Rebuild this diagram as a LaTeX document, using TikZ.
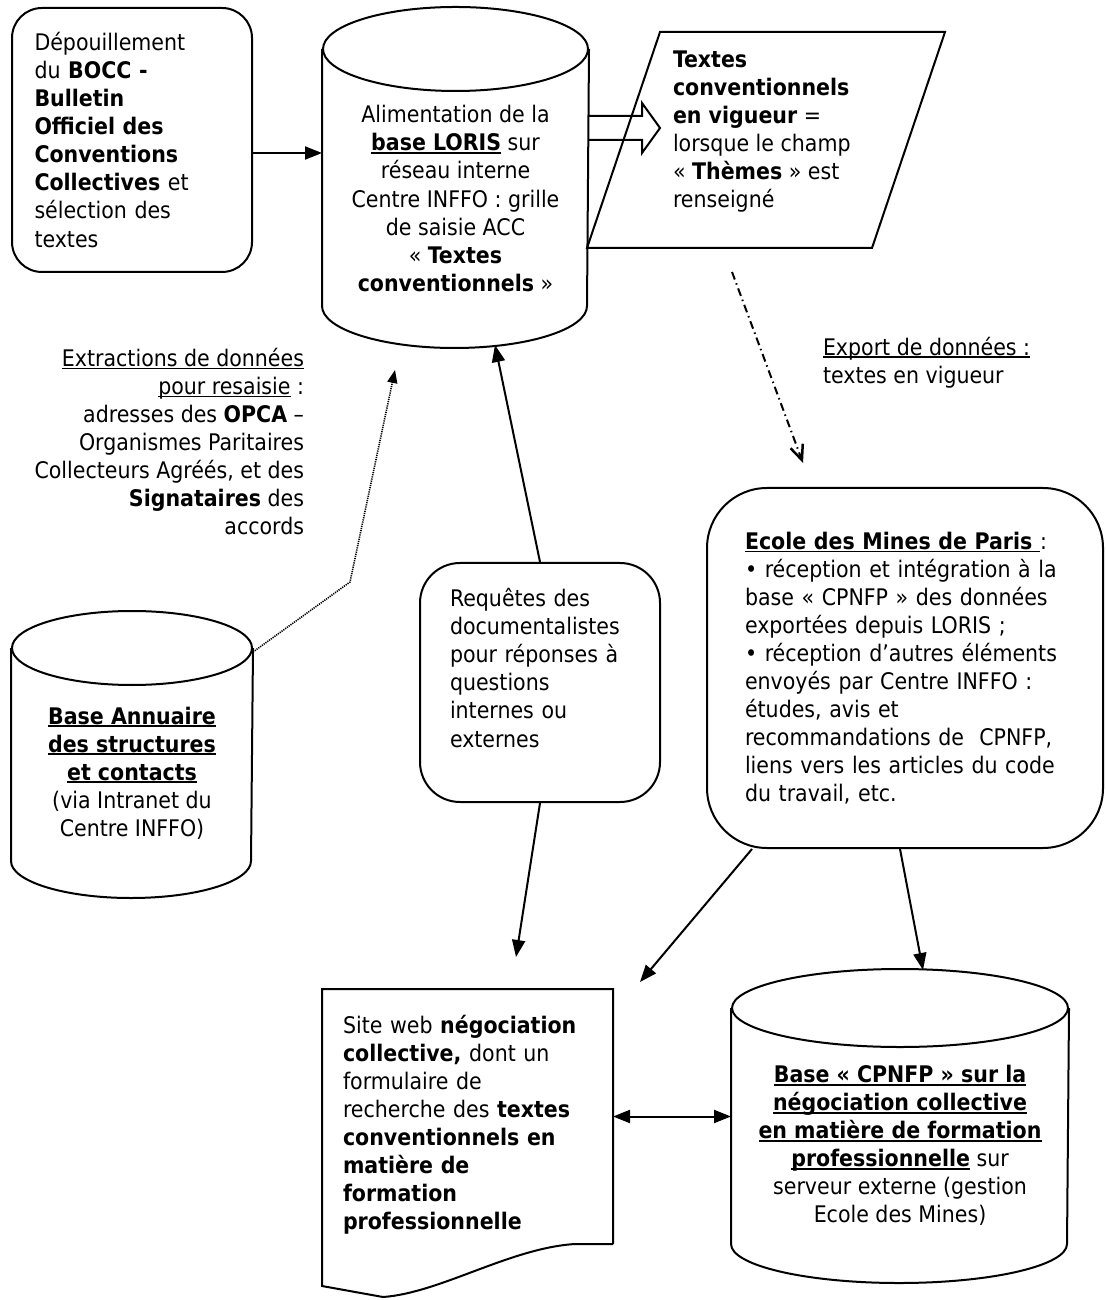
\documentclass[tikz,border=0pt]{standalone}
\usepackage{fontspec}
\setmainfont{DejaVu Sans Condensed}
\usetikzlibrary{arrows.meta}

\newcommand{\diagfont}{\fontsize{6.5}{7.97}\selectfont}
\newcommand{\undl}[1]{\setbox0=\hbox{#1}\rlap{\rule[-0.85pt]{\wd0}{0.5pt}}\box0\relax}

\tikzset{
  procbox/.style={draw, rounded corners=#1, inner sep=0pt, font=\diagfont},
  procbox/.default=0.3cm,
  txt/.style={inner sep=0pt, font=\diagfont},
  flow/.style={-{Triangle[length=0.17cm,width=0.13cm]}},
  flowboth/.style={{Triangle[length=0.17cm,width=0.13cm]}-{Triangle[length=0.17cm,width=0.13cm]}},
  exportline/.style={dash pattern=on 0.08cm off 0.04cm on 0.015cm off 0.04cm, -{Straight Barb[length=0.15cm,width=0.13cm,line width=0.025cm]}},
  extrline/.style={line width=0.016cm, dash pattern=on 0.012cm off 0.01cm, -{Triangle[length=0.13cm,width=0.10cm]}}
}

\begin{document}
\begin{tikzpicture}[line width=0.02cm]
\useasboundingbox (0,0) rectangle (11.05,-13.00);

\node[procbox, minimum width=2.40cm, minimum height=2.64cm, text width=1.95cm, align=left] (bocc) at (1.32,-1.40) {Dépouillement\\ du \textbf{BOCC -}\\ \textbf{Bulletin}\\ \textbf{Officiel des}\\ \textbf{Conventions}\\ \textbf{Collectives} et\\ sélection des\\ textes};

\node[txt, minimum width=2.65cm, minimum height=2.13cm, align=center] (loris) at (4.555,-1.985) {Alimentation de la\\ \undl{\textbf{base LORIS}} sur\\ réseau interne\\ Centre INFFO : grille\\ de saisie ACC\\ «~\textbf{Textes}\\ \textbf{conventionnels}~»};
\draw ([yshift=0.42cm]loris.north west) -- (loris.south west) arc[start angle=180, end angle=360, x radius=1.325cm, y radius=0.42cm] -- ([yshift=0.42cm]loris.north east);
\draw ([yshift=0.42cm]loris.north) ellipse [x radius=1.325cm, y radius=0.42cm];

\coordinate (boccout) at ([yshift=-0.13cm]bocc.east);
\draw[flow] (boccout) -- (boccout -| loris.west);

\draw (6.60,-0.32) -- ++(2.85,0) -- ++(-0.73,-2.16) -- ++(-2.85,0) -- cycle;
\node[txt, anchor=west, align=left] (theme) at (6.72,-1.32) {\textbf{Textes}\\ \textbf{conventionnels}\\ \textbf{en vigueur} =\\ lorsque le champ\\ «~\textbf{Thèmes}~» est\\ renseigné};

\draw (5.88,-1.16) -- ++(0.54,0) -- ++(0,0.13) -- ++(0.18,-0.25) -- ++(-0.18,-0.25) -- ++(0,0.13) -- ++(-0.54,0);

\coordinate (expstart) at (7.32,-2.72);
\coordinate (expend) at (8.03,-4.63);
\draw[exportline] (expstart) -- (expend);
\node[txt, anchor=west, align=left] (exportlbl) at (8.22,-3.625) {\undl{Export de données :}\\ textes en vigueur};

\node[txt, anchor=east, align=right] (extrlbl) at (3.05,-4.415) {\undl{Extractions de données}\\ \undl{pour resaisie} :\\ adresses des \textbf{OPCA} –\\ Organismes Paritaires\\ Collecteurs Agréés, et des\\ \textbf{Signataires} des\\ accords};

\node[txt, minimum width=2.40cm, minimum height=1.74cm, align=center] (annu) at (1.32,-7.73) {\undl{\textbf{Base Annuaire}}\\ \undl{\textbf{des structures}}\\ \undl{\textbf{et contacts}}\\ (via Intranet du\\ Centre INFFO)};
\draw ([yshift=0.37cm]annu.north west) -- (annu.south west) arc[start angle=180, end angle=360, x radius=1.20cm, y radius=0.37cm] -- ([yshift=0.37cm]annu.north east);
\draw ([yshift=0.37cm]annu.north) ellipse [x radius=1.20cm, y radius=0.37cm];

\coordinate (extrbend) at (3.50,-5.82);
\coordinate (extrend) at (3.95,-3.70);
\draw[extrline] ([yshift=0.33cm]annu.north east) -- (extrbend) -- (extrend);

\node[procbox=0.4cm, minimum width=2.40cm, minimum height=2.39cm] (req) at (5.40,-6.825) {};
\node[txt, text width=1.9cm, align=left] (reqtxt) at (5.45,-6.68) {Requêtes des\\ documentalistes\\ pour réponses à\\ questions\\ internes ou\\ externes};
\coordinate (lorisbot) at (4.95,-3.45);
\draw[flow] (req.north) -- (lorisbot);

\node[procbox=0.6cm, minimum width=3.96cm, minimum height=3.60cm, text width=3.20cm, align=left] (ecole) at (9.05,-6.68) {\undl{\textbf{Ecole des Mines de Paris\ }}:\\ • réception et intégration à la\\ base «~CPNFP~» des données\\ exportées depuis LORIS ;\\ • réception d’autres éléments\\ envoyés par Centre INFFO :\\ études, avis et\\ recommandations de~ CPNFP,\\ liens vers les articles du code\\ du travail, etc.};

\node[txt, minimum width=2.89cm, minimum height=2.53cm] (webdoc) at (4.675,-11.165) {};
\draw (webdoc.south east) -- (webdoc.north east) -- (webdoc.north west) -- ([yshift=-0.42cm]webdoc.south west) -- (3.83,-12.97) .. controls (4.40,-12.93) and (5.10,-12.48) .. (5.75,-12.44) -- (webdoc.south east);
\node[txt, text width=2.49cm, align=left] (webtxt) at (4.675,-11.25) {Site web \textbf{négociation}\\ \textbf{collective,} dont un\\ formulaire de\\ recherche des \textbf{textes}\\ \textbf{conventionnels en}\\ \textbf{matière de}\\ \textbf{formation}\\ \textbf{professionnelle}};

\node[txt, minimum width=3.36cm, minimum height=1.95cm, align=center] (cpnfp) at (9.00,-11.455) {\undl{\textbf{Base «~CPNFP~» sur la}}\\ \undl{\textbf{négociation collective}}\\ \undl{\textbf{en matière de formation}}\\ \undl{\textbf{professionnelle}} sur\\ serveur externe (gestion\\ Ecole des Mines)};
\draw ([yshift=0.39cm]cpnfp.north west) -- (cpnfp.south west) arc[start angle=180, end angle=360, x radius=1.68cm, y radius=0.39cm] -- ([yshift=0.39cm]cpnfp.north east);
\draw ([yshift=0.39cm]cpnfp.north) ellipse [x radius=1.68cm, y radius=0.39cm];

\coordinate (reqend) at (5.16,-9.57);
\draw[flow] (req.south) -- (reqend);
\coordinate (webend) at (6.40,-9.82);
\draw[flow] ([xshift=0.46cm]ecole.south west) -- (webend);
\coordinate (cpnfptop) at (9.23,-9.70);
\draw[flow] ([xshift=-0.05cm]ecole.south) -- (cpnfptop);
\draw[flowboth] (webdoc.east) -- (webdoc.east -| cpnfp.west);
\end{tikzpicture}
\end{document}
